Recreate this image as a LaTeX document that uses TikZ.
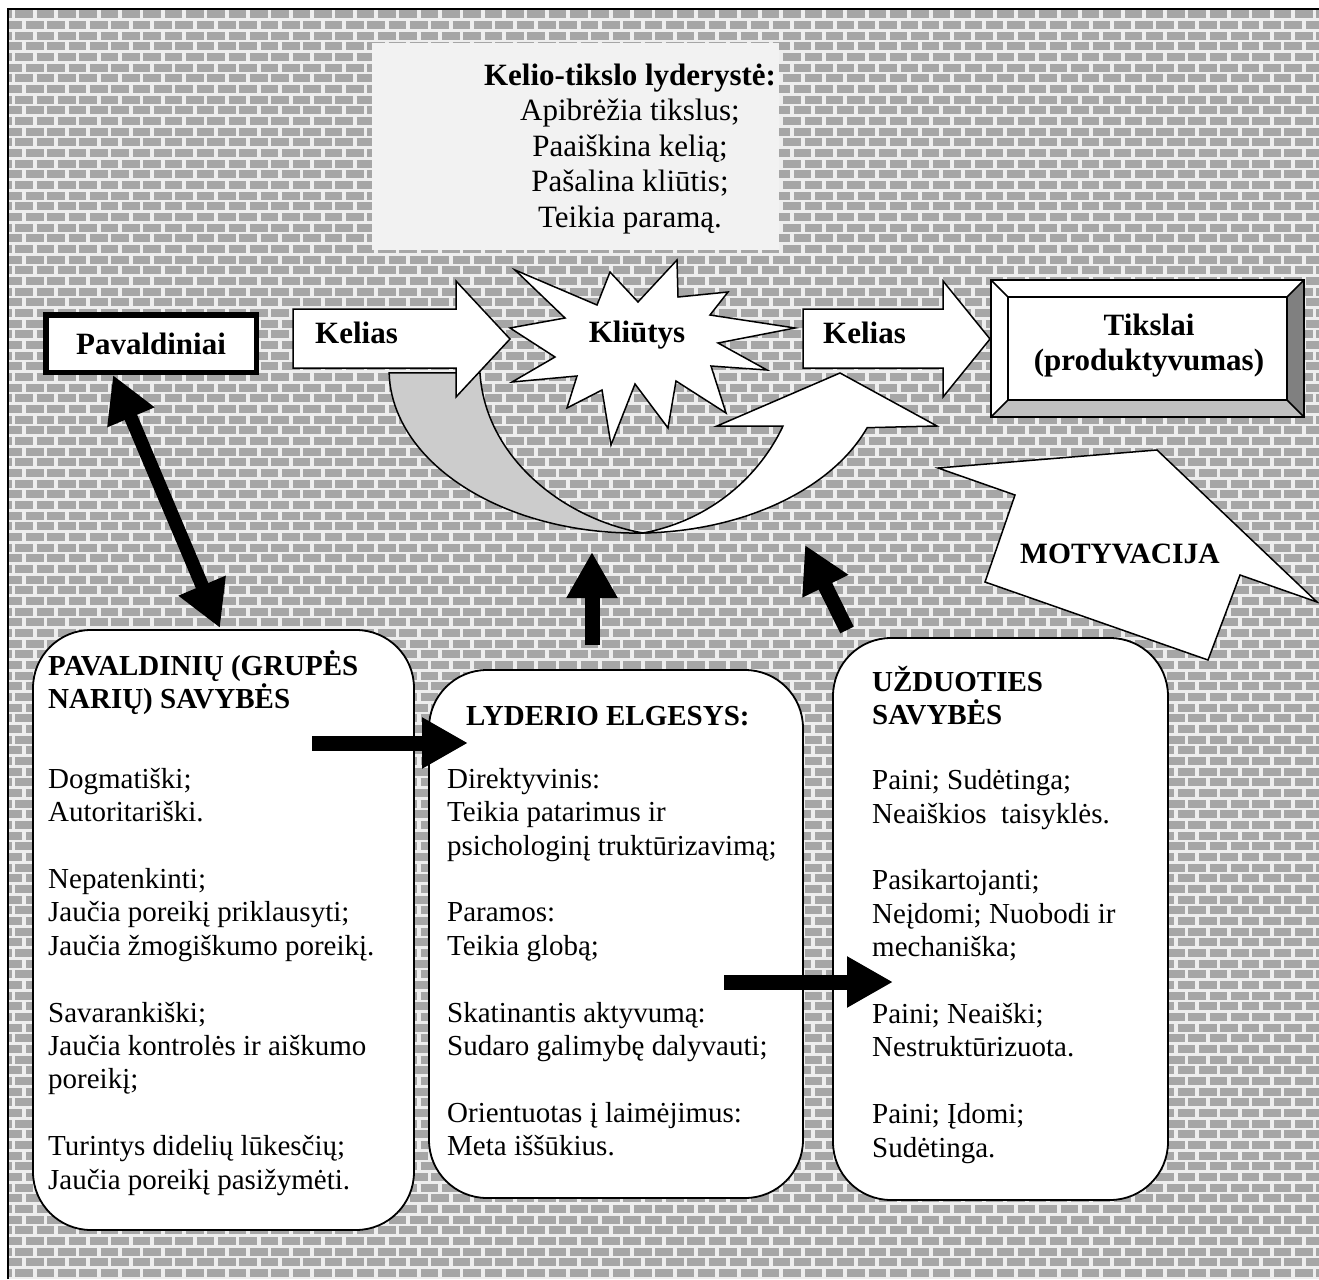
\documentclass[tikz,border=0pt]{standalone}
\usepackage{fontspec}
\setmainfont{Liberation Serif}
\usetikzlibrary{arrows.meta}

\definecolor{brick}{RGB}{166,166,166}
\definecolor{mortar}{RGB}{238,238,238}
\definecolor{boxgray}{RGB}{242,242,242}
\definecolor{bandgray}{RGB}{204,204,204}
\definecolor{bevdark}{RGB}{128,128,128}
\definecolor{bevlight}{RGB}{192,192,192}

\begin{document}
\begin{tikzpicture}[x=1pt,y=-1pt,
  outline/.style={draw=black, line width=1.5pt, line join=miter},
  panel/.style={draw=black, line width=1.8pt, fill=white, rounded corners=58pt, inner sep=0pt},
  label/.style={font=\bfseries\fontsize{31}{36}\selectfont, inner sep=0pt},
  head/.style={font=\bfseries\fontsize{29}{33.4}\selectfont, align=left, anchor=north west, inner sep=0pt},
  body/.style={font=\fontsize{29}{33.4}\selectfont, align=left, anchor=north west, inner sep=0pt},
  fat/.style={line width=15pt, -{Triangle[length=46pt,width=48pt]}},
  twoway/.style={line width=13.5pt, {Triangle[length=46pt,width=48pt]}-{Triangle[length=46pt,width=48pt]}},
]
\useasboundingbox (0,0) rectangle (1319,1279);
\fill[white] (0,0) rectangle (1319,1279);

% ---------- brick wall ----------
\begin{scope}
  \clip (8,9) rectangle (1319,1279);
  \fill[mortar] (8,9) rectangle (1319,1279);
  \foreach \r in {0,...,119} {
    \pgfmathsetmacro{\yc}{9 + 10.667*\r + 5.3}
    \pgfmathsetmacro{\ph}{mod(\r,2)*10.667 + 6}
    \draw[brick, line width=7.9pt, dash pattern=on 17.6pt off 3.73pt, dash phase=\ph pt]
      (0,\yc) -- (1319,\yc);
  }
\end{scope}
\draw[line width=1.5pt] (8,1279) -- (8,9) -- (1319,9);

% ---------- path-goal leadership panel ----------
\node[fill=boxgray, minimum width=407pt, minimum height=207pt, inner sep=0pt] (goalbox) at (575.5,146.5) {};
\node[font=\fontsize{31}{35.5}\selectfont, align=center, anchor=north, inner sep=0pt] (goaltext) at (630,53)
  {\rule{0pt}{32pt}\textbf{Kelio-tikslo lyderystė:}\\Apibrėžia tikslus;\\Paaiškina kelią;\\Pašalina kliūtis;\\Teikia paramą.};

% ---------- U-turn band ----------
\filldraw[fill=bandgray, outline]
  (643,533) arc[start angle=88.4, end angle=179, x radius=247, y radius=163]
  -- (480,373) .. controls (485,455) and (560,518) .. (643,533) -- cycle;
\filldraw[fill=white, outline]
  (643,533) arc[start angle=88.4, end angle=20.7, x radius=247, y radius=163]
  -- (937,426) -- (840,373) -- (717,426) -- (783,426)
  .. controls (760,475) and (712,520) .. (643,533) -- cycle;

% ---------- path arrows ----------
\filldraw[fill=white, outline]
  (293,309) -- (456,309) -- (456,281) -- (510,339) -- (456,397) -- (456,368) -- (293,368) -- cycle;
\filldraw[fill=white, outline]
  (803,309) -- (943,309) -- (943,281) -- (990,339) -- (943,397) -- (943,368) -- (803,368) -- cycle;

% ---------- obstacles burst ----------
\filldraw[fill=white, outline]
  (677,260) -- (678,297) -- (728,292) -- (710,315) -- (795,328) -- (718,343) -- (767,370)
  -- (711,366) -- (726,413) -- (676,381) -- (668,428) -- (635,384) -- (611,445)
  -- (602,390) -- (567,408) -- (577,376) -- (512,382) -- (555,357) -- (510,328)
  -- (565,318) -- (515,270) -- (597,305) -- (610,272) -- (638,302) -- cycle;

% ---------- goals: bevelled box ----------
\fill[white] (991,280) rectangle (1304,417);
\fill[bevdark] (1287,297) -- (1304,280) -- (1304,417) -- (1287,400) -- cycle;
\fill[bevlight] (1008,400) -- (1287,400) -- (1304,417) -- (991,417) -- cycle;
\draw[outline] (991,280) rectangle (1304,417);
\draw[outline] (1008,297) rectangle (1287,400);
\draw[outline] (991,280) -- (1008,297) (1304,280) -- (1287,297)
               (991,417) -- (1008,400) (1304,417) -- (1287,400);

% ---------- subordinates ----------
\node[draw, line width=5.5pt, fill=white, minimum width=210.5pt, minimum height=57.5pt,
      inner sep=0pt, font=\bfseries\fontsize{31}{36}\selectfont] (pav) at (151,343.5) {Pavaldiniai};

% ---------- motivation arrow ----------
\filldraw[fill=white, outline]
  (938,468) -- (1015,495) -- (985,582) -- (1208,660) -- (1240,575) -- (1317,602) -- (1157,450) -- cycle;

% ---------- three panels ----------
\node[panel, minimum width=381pt, minimum height=600pt] (lbox) at (223.5,930) {};
\node[panel, minimum width=374pt, minimum height=528pt] (mbox) at (616,934) {};
\node[panel, minimum width=335pt, minimum height=562pt] (rbox) at (1000.5,919) {};

% ---------- labels ----------
\node[label, anchor=base west] (kel1) at (315,343) {Kelias};
\node[label, anchor=base] (kliu) at (637,342) {Kliūtys};
\node[label, anchor=base west] (kel2) at (823,343) {Kelias};
\node[label, anchor=base] (tik1) at (1149,335) {Tikslai};
\node[label, anchor=base] (tik2) at (1149,370) {(produktyvumas)};
\node[font=\bfseries\fontsize{29.5}{34}\selectfont, inner sep=0pt, anchor=base west] (motv) at (1020,563) {MOTYVACIJA};

% ---------- panel texts ----------
\node[head] (lhead) at (48,645) {\rule{0pt}{30pt}PAVALDINIŲ (GRUPĖS\\NARIŲ) SAVYBĖS};
\node[body] (ltext) at (48,758) {\rule{0pt}{30pt}Dogmatiški;\\Autoritariški.\\[33.4pt]
  Nepatenkinti;\\Jaučia poreikį priklausyti;\\Jaučia žmogiškumo poreikį.\\[33.4pt]
  Savarankiški;\\Jaučia kontrolės ir aiškumo\\poreikį;\\[33.4pt]
  Turintys didelių lūkesčių;\\Jaučia poreikį pasižymėti.};

\node[head] (mhead) at (466,695) {\rule{0pt}{30pt}LYDERIO ELGESYS:};
\node[body] (mtext) at (447,758) {\rule{0pt}{30pt}Direktyvinis:\\Teikia patarimus ir\\psichologinį truktūrizavimą;\\[33.4pt]
  Paramos:\\Teikia globą;\\[33.4pt]
  Skatinantis aktyvumą:\\Sudaro galimybę dalyvauti;\\[33.4pt]
  Orientuotas į laimėjimus:\\Meta iššūkius.};

\node[head] (rhead) at (872,661) {\rule{0pt}{30pt}UŽDUOTIES\\SAVYBĖS};
\node[body] (rtext) at (872,759.5) {\rule{0pt}{30pt}Paini; Sudėtinga;\\Neaiškios\ \ taisyklės.\\[33.4pt]
  Pasikartojanti;\\Neįdomi; Nuobodi ir\\mechaniška;\\[33.4pt]
  Paini; Neaiški;\\Nestruktūrizuota.\\[33.4pt]
  Paini; Įdomi;\\Sudėtinga.};

% ---------- black connectors ----------
\coordinate (pavfoot) at (113,375);
\coordinate (lboxtop) at (220,628);
\draw[twoway] (pavfoot) -- (lboxtop);

\coordinate (la) at (312,743);
\coordinate (lb) at (468,743);
\draw[fat] (la) -- (lb);

\coordinate (ma) at (724,982);
\coordinate (mb) at (893,982);
\draw[fat] (ma) -- (mb);

\coordinate (mup) at (592,645);
\coordinate (mupend) at (592,552);
\draw[fat] (mup) -- (mupend);

\coordinate (rup) at (847,630);
\coordinate (rupend) at (805,545);
\draw[fat] (rup) -- (rupend);

\end{tikzpicture}
\end{document}
